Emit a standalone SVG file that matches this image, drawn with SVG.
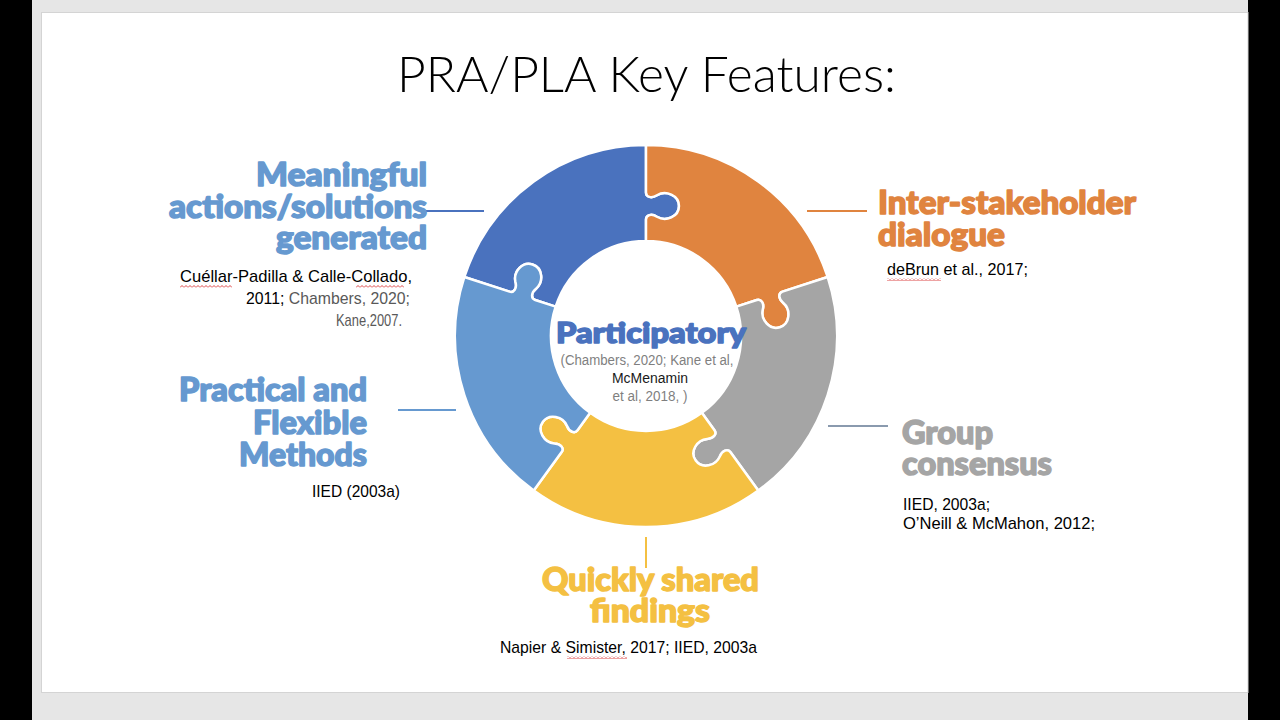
<svg xmlns="http://www.w3.org/2000/svg" width="1280" height="720" viewBox="0 0 1280 720">
<defs>
<path id="piece" d="M -181.65,-59.02 A 191 191 0 0 1 0,-191 L 0,-143.5 C 0,-139 5.5,-137.2 11,-140.8 C 19.8,-146.2 33,-140.8 33,-130 C 33,-119.2 19.8,-113.8 11,-119.2 C 5.5,-122.8 0,-121 0,-116.5 L 0,-95 A 95 95 0 0 0 -90.35,-29.36 L -110.80,-36.00 C -115.08,-37.39 -115.09,-43.18 -109.97,-47.29 C -102.11,-54.00 -103.17,-68.21 -113.44,-71.55 C -123.71,-74.89 -132.92,-64.01 -130.51,-53.97 C -128.79,-47.63 -132.20,-42.95 -136.48,-44.34 Z"/>
<pattern id="squig" width="4" height="3" patternUnits="userSpaceOnUse">
<path d="M0,2.5 L2,0.5 L4,2.5" fill="none" stroke="#d83030" stroke-width="0.9"/>
</pattern>
</defs>
<style>
.piece{stroke:#ffffff;stroke-width:2.5;stroke-linejoin:round}
.lbl{font-family:Lato,"DejaVu Sans",sans-serif;font-weight:900;font-size:32px;stroke-width:1.5;stroke-linejoin:round;paint-order:stroke}
.lb{fill:#6699d0;stroke:#6699d0}
.db{fill:#4a72be;stroke:#4a72be}
.or{fill:#e0843f;stroke:#e0843f}
.gy{fill:#a5a5a5;stroke:#a5a5a5}
.yl{fill:#f4c042;stroke:#f4c042}
.cit{font-family:"Liberation Sans",Arial,sans-serif;font-size:17px;fill:#000000}
.ctr{font-family:"Liberation Sans",Arial,sans-serif;font-size:14px;fill:#7f7f7f}
.gr{fill:#595959}
.conn line{stroke-width:2}
</style>
<rect width="1280" height="720" fill="#e6e6e6"/>
<rect x="0" y="0" width="32" height="720" fill="#000"/>
<rect x="1248" y="0" width="32" height="720" fill="#000"/>
<rect x="41.5" y="12.5" width="1206.5" height="680" fill="#ffffff" stroke="#d4d4d4"/>
<text x="646.5" y="92" text-anchor="middle" font-family="'Lato Light', Lato, 'Liberation Sans', sans-serif" font-weight="300" font-size="50" fill="#000" textLength="499" lengthAdjust="spacingAndGlyphs">PRA/PLA Key Features:</text>

<g id="connectors" class="conn">
<line x1="426" y1="211" x2="484" y2="211" stroke="#4a72be"/>
<line x1="807" y1="211" x2="867" y2="211" stroke="#e0843f"/>
<line x1="398" y1="410" x2="456" y2="410" stroke="#6699d0"/>
<line x1="828" y1="426" x2="888" y2="426" stroke="#8a9aae"/>
<line x1="646" y1="537" x2="646" y2="568" stroke="#f4c042"/>
</g>

<g id="node-meaningful">
<use href="#piece" class="piece" fill="#4a72be" transform="translate(646,336)"/>
<text class="lbl lb" x="427" y="186" text-anchor="end" textLength="171" lengthAdjust="spacingAndGlyphs">Meaningful</text>
<text class="lbl lb" x="427" y="218" text-anchor="end" textLength="258" lengthAdjust="spacingAndGlyphs">actions/solutions</text>
<text class="lbl lb" x="427" y="249" text-anchor="end" textLength="151" lengthAdjust="spacingAndGlyphs">generated</text>
<text class="cit" x="412" y="282" text-anchor="end" textLength="232" lengthAdjust="spacingAndGlyphs">Cuéllar-Padilla &amp; Calle-Collado,</text>
<text class="cit" x="410" y="304" text-anchor="end" textLength="164" lengthAdjust="spacingAndGlyphs">2011;  <tspan class="gr">Chambers, 2020;</tspan></text>
<text class="cit gr" x="402" y="326" text-anchor="end" textLength="66" lengthAdjust="spacingAndGlyphs">Kane,2007.</text>
<rect x="180" y="285" width="52" height="3" fill="url(#squig)"/>
<rect x="356" y="285" width="48" height="3" fill="url(#squig)"/>
</g>

<g id="node-dialogue">
<use href="#piece" class="piece" fill="#e0843f" transform="translate(646,336) rotate(72)"/>
<text class="lbl or" x="878" y="214" textLength="258" lengthAdjust="spacingAndGlyphs">Inter-stakeholder</text>
<text class="lbl or" x="878" y="246" textLength="127" lengthAdjust="spacingAndGlyphs">dialogue</text>
<text class="cit" x="887" y="275" textLength="141" lengthAdjust="spacingAndGlyphs">deBrun et al., 2017;</text>
<rect x="887" y="278" width="54" height="3" fill="url(#squig)"/>
</g>

<g id="node-consensus">
<use href="#piece" class="piece" fill="#a5a5a5" transform="translate(646,336) rotate(144)"/>
<text class="lbl gy" x="902" y="444" textLength="91" lengthAdjust="spacingAndGlyphs">Group</text>
<text class="lbl gy" x="902" y="475" textLength="150" lengthAdjust="spacingAndGlyphs">consensus</text>
<text class="cit" x="903" y="510" textLength="87" lengthAdjust="spacingAndGlyphs">IIED, 2003a;</text>
<text class="cit" x="903" y="529" textLength="192" lengthAdjust="spacingAndGlyphs">O’Neill &amp; McMahon, 2012;</text>
</g>

<g id="node-findings">
<use href="#piece" class="piece" fill="#f4c042" transform="translate(646,336) rotate(216)"/>
<text class="lbl yl" x="542" y="591" textLength="217" lengthAdjust="spacingAndGlyphs">Quickly shared</text>
<text class="lbl yl" x="590" y="622" textLength="120" lengthAdjust="spacingAndGlyphs">findings</text>
<text class="cit" x="500" y="653" textLength="257" lengthAdjust="spacingAndGlyphs">Napier &amp; Simister, 2017; IIED, 2003a</text>
<rect x="567" y="656" width="60" height="3" fill="url(#squig)"/>
</g>

<g id="node-methods">
<use href="#piece" class="piece" fill="#6699d0" transform="translate(646,336) rotate(288)"/>
<text class="lbl lb" x="367" y="401" text-anchor="end" textLength="188" lengthAdjust="spacingAndGlyphs">Practical and</text>
<text class="lbl lb" x="367" y="434" text-anchor="end" textLength="114" lengthAdjust="spacingAndGlyphs">Flexible</text>
<text class="lbl lb" x="367" y="466" text-anchor="end" textLength="128" lengthAdjust="spacingAndGlyphs">Methods</text>
<text class="cit" x="400" y="497" text-anchor="end" textLength="88" lengthAdjust="spacingAndGlyphs">IIED (2003a)</text>
</g>

<g id="node-participatory">
<text class="lbl db" x="651" y="343" text-anchor="middle" textLength="190" lengthAdjust="spacingAndGlyphs" style="font-size:29px">Participatory</text>
<text class="ctr" x="647" y="365" text-anchor="middle" textLength="173" lengthAdjust="spacingAndGlyphs">(Chambers, 2020; Kane et al,</text>
<text class="ctr" x="650" y="383" text-anchor="middle" style="fill:#1a1a1a" textLength="76" lengthAdjust="spacingAndGlyphs">McMenamin</text>
<text class="ctr" x="650" y="401" text-anchor="middle" textLength="75" lengthAdjust="spacingAndGlyphs">et al, 2018, )</text>
</g>
</svg>
